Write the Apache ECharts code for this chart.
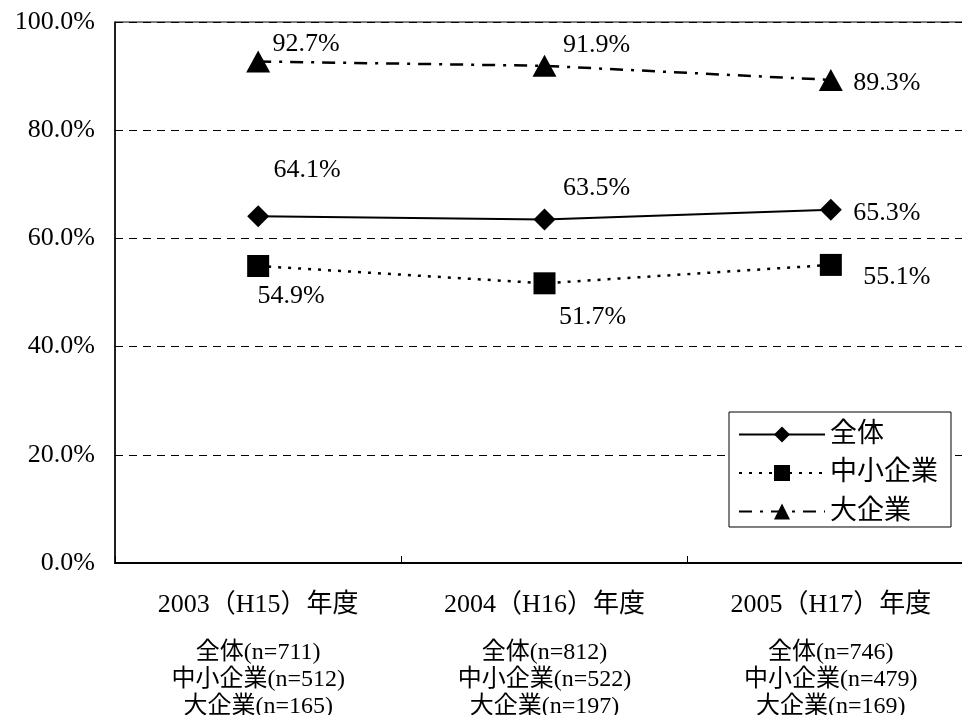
<!DOCTYPE html>
<html>
<head>
<meta charset="utf-8">
<script src="https://cdn.jsdelivr.net/npm/echarts@6/dist/echarts.min.js"></script>
<style>
  html, body { margin: 0; padding: 0; background: #fff; }
  #chart { width: 962px; height: 715px; }
</style>
</head>
<body>
<div id="chart"></div>
<script>
// ---- data ----
const categories = ['2003（H15）年度', '2004（H16）年度', '2005（H17）年度'];
const nAll = [711, 812, 746];
const nSme = [512, 522, 479];
const nLarge = [165, 197, 169];
const seriesNames = ['全体', '中小企業', '大企業'];
const valuesAll = [64.1, 63.5, 65.3];
const valuesSme = [54.9, 51.7, 55.1];
const valuesLarge = [92.7, 91.9, 89.3];
const yTicks = [0, 20, 40, 60, 80, 100];

// ---- label placement (style, not data) ----
const offAll = [[49, -46], [52, -31], [56, 3]];
const offSme = [[33, 30], [48, 34], [66, 12]];
const offLarge = [[48, -17], [52, -21], [56, 3]];

const FONT = '"Liberation Serif", "Noto Sans CJK JP", serif';

function withLabels(values, offs) {
  return values.map((v, i) => ({
    value: v,
    label: { offset: offs[i] }
  }));
}

const labelBase = {
  show: true,
  position: 'inside',
  align: 'center',
  verticalAlign: 'middle',
  color: '#000',
  fontFamily: FONT,
  fontSize: 26,
  formatter: p => p.value.toFixed(1) + '%'
};

const chart = echarts.init(document.getElementById('chart'), null, { renderer: 'canvas' });

chart.setOption({
  animation: false,
  backgroundColor: '#fff',
  textStyle: { fontFamily: FONT, color: '#000' },
  grid: {
    left: 115, top: 22, width: 859, bottom: 152,
    show: true, borderColor: '#000', borderWidth: 1,
    backgroundColor: 'transparent',
    containLabel: false,
    outerBoundsMode: 'none'
  },
  legend: {
    orient: 'vertical',
    left: 729, top: 412,
    padding: [9, 13, 2, 9],
    itemWidth: 86, itemHeight: 20, itemGap: 11.5,
    backgroundColor: '#fff',
    borderColor: '#000', borderWidth: 1,
    textStyle: { fontFamily: FONT, fontSize: 27, color: '#000' },
    data: seriesNames
  },
  xAxis: {
    type: 'category',
    data: categories,
    boundaryGap: true,
    axisLine: { lineStyle: { color: '#000', width: 2 } },
    axisTick: { show: true, inside: true, length: 7, lineStyle: { color: '#000' } },
    axisLabel: {
      margin: 8,
      interval: 0,
      formatter: (val, idx) =>
        '{a|' + val + '}\n{b|全体(n=' + nAll[idx] + ')}\n{b|中小企業(n=' + nSme[idx] + ')}\n{b|大企業(n=' + nLarge[idx] + ')}',
      rich: {
        a: { fontFamily: FONT, fontSize: 26, lineHeight: 68, color: '#000' },
        b: { fontFamily: FONT, fontSize: 24, lineHeight: 27, color: '#000' }
      }
    }
  },
  yAxis: {
    type: 'value',
    min: 0, max: 100, interval: 20,
    axisLine: { show: true, lineStyle: { color: '#000', width: 1.5 } },
    axisTick: { show: false },
    axisLabel: {
      margin: 20,
      color: '#000',
      fontFamily: FONT,
      fontSize: 26,
      formatter: v => yTicks.includes(v) ? v.toFixed(1) + '%' : ''
    },
    splitLine: { show: true, lineStyle: { color: '#000', width: 1, type: [8, 6] } }
  },
  series: [
    {
      name: seriesNames[0],
      type: 'line',
      data: withLabels(valuesAll, offAll),
      symbol: 'diamond', symbolSize: 22,
      itemStyle: { color: '#000' },
      lineStyle: { color: '#000', width: 2, type: 'solid' },
      label: labelBase,
      z: 3
    },
    {
      name: seriesNames[1],
      type: 'line',
      data: withLabels(valuesSme, offSme),
      symbol: 'rect', symbolSize: 22,
      itemStyle: { color: '#000' },
      lineStyle: { color: '#000', width: 2.5, type: [3, 7] },
      label: labelBase,
      z: 3
    },
    {
      name: seriesNames[2],
      type: 'line',
      data: withLabels(valuesLarge, offLarge),
      symbol: 'triangle', symbolSize: [24, 22],
      itemStyle: { color: '#000' },
      lineStyle: { color: '#000', width: 2.5, type: [13, 8, 3, 8] },
      label: labelBase,
      z: 3
    }
  ]
});
</script>
</body>
</html>
